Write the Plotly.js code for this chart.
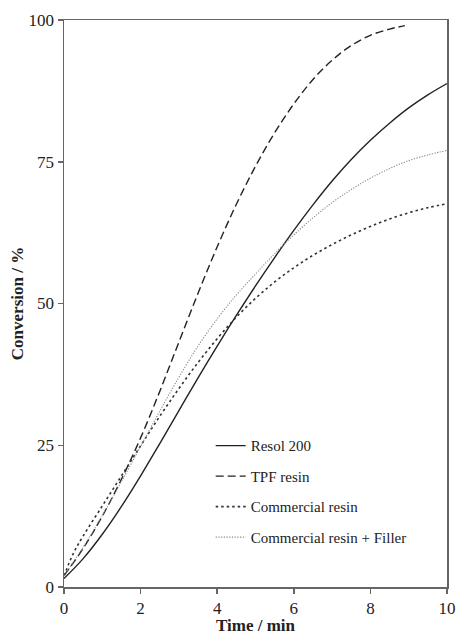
<!DOCTYPE html>
<html><head><meta charset="utf-8">
<script src="https://cdn.plot.ly/plotly-3.0.1.min.js"></script>
<style>html,body{margin:0;padding:0;background:#fff}#chart{width:459px;height:635px}</style>
</head><body><div id="chart"></div>
<script>
const resolX = [0, 0.5, 1, 1.5, 2, 2.5, 3, 3.5, 4, 4.5, 5, 5.5, 6, 6.5, 7, 7.5, 8, 8.5, 9, 9.5, 10];
const resolY = [1.5, 5, 9.3, 14.2, 19.6, 25.3, 31.1, 36.9, 42.5, 47.9, 53.1, 58.1, 62.9, 67.4, 71.6, 75.4, 78.8, 81.8, 84.5, 86.8, 88.8];
const tpfX = [0, 0.5, 1, 1.5, 2, 2.5, 3, 3.5, 4, 4.5, 5, 5.5, 6, 6.5, 7, 7.5, 8, 8.5, 8.9];
const tpfY = [2, 6.8, 12.5, 19, 26.3, 34.5, 43.2, 51.8, 60, 67.5, 74.2, 80.1, 85.2, 89.5, 92.9, 95.5, 97.3, 98.4, 99];
const comX = [0, 0.25, 0.5, 1, 1.5, 2, 2.5, 3, 3.5, 4, 4.5, 5, 5.5, 6, 6.5, 7, 7.5, 8, 8.5, 9, 9.5, 10];
const comY = [2, 6, 9, 14.3, 19.6, 24.9, 30.1, 35, 39.6, 43.8, 47.6, 50.9, 53.8, 56.3, 58.5, 60.4, 62.1, 63.6, 64.9, 66, 66.9, 67.6];
const filX = [0, 0.5, 1, 1.5, 2, 2.5, 3, 3.5, 4, 4.5, 5, 5.5, 6, 6.5, 7, 7.5, 8, 8.5, 9, 9.5, 10];
const filY = [2, 7, 12.6, 18.6, 24.8, 31, 37, 42.5, 47.3, 51.5, 55.2, 58.8, 62.1, 65.1, 67.8, 70.1, 72.1, 73.8, 75.2, 76.2, 77];
const names = ["Resol 200", "TPF resin", "Commercial resin", "Commercial resin + Filler"];

const serif = "Liberation Serif, Times New Roman, serif";
const traces = [
  {x: resolX, y: resolY, name: names[0], legendgroup: "a", mode: "lines", line: {color: "#222", width: 1.4, dash: "solid", shape: "spline", smoothing: 1}},
  {x: tpfX, y: tpfY, name: names[1], legendgroup: "b", mode: "lines", line: {color: "#222", width: 1.4, dash: "8px,4px", shape: "spline", smoothing: 1}},
  {x: comX, y: comY, name: names[2], legendgroup: "c", mode: "lines", line: {color: "#333", width: 1.6, dash: "2.5px,3px", shape: "spline", smoothing: 1}},
  {x: filX, y: filY, name: names[3], legendgroup: "d", mode: "lines", line: {color: "#888", width: 1.1, dash: "1.2px,1.5px", shape: "spline", smoothing: 1}}
];
const axisCommon = {
  showgrid: false, zeroline: false, showline: true, mirror: true,
  linecolor: "#666", linewidth: 1.5, ticks: "outside", ticklen: 5, tickwidth: 1.5, tickcolor: "#666",
  tickfont: {family: serif, size: 17, color: "#222"}
};
const layout = {
  width: 459, height: 635,
  margin: {l: 64, r: 12, t: 20, b: 48},
  paper_bgcolor: "#fff", plot_bgcolor: "#fff",
  showlegend: true,
  legend: {x: 0.383, y: 0.278, xanchor: "left", yanchor: "top", bgcolor: "rgba(0,0,0,0)",
    font: {family: serif, size: 15, color: "#222"}, tracegroupgap: 8, itemwidth: 30},
  xaxis: Object.assign({}, axisCommon, {range: [0, 10], tickvals: [0, 2, 4, 6, 8, 10],
    title: {text: "<b>Time / min</b>", font: {family: serif, size: 17, color: "#222"}, standoff: 4}}),
  yaxis: Object.assign({}, axisCommon, {range: [0, 100], tickvals: [0, 25, 50, 75, 100],
    title: {text: "<b>Conversion / %</b>", font: {family: serif, size: 17, color: "#222"}, standoff: 0}})
};
Plotly.newPlot("chart", traces, layout, {staticPlot: true, displayModeBar: false});
</script></body></html>
